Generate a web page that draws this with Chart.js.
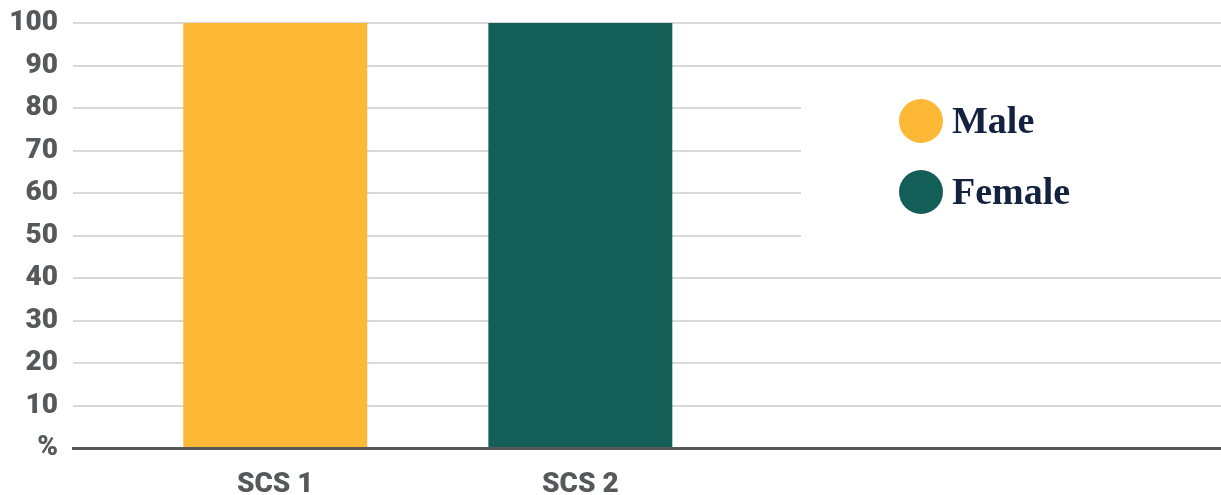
<!DOCTYPE html>
<html>
<head>
<meta charset="utf-8">
<script src="https://cdn.jsdelivr.net/npm/chart.js@4/dist/chart.umd.min.js"></script>
<style>
  html, body { margin: 0; padding: 0; background: #fff; }
  #wrap { width: 1221px; height: 495px; }
</style>
</head>
<body>
<div id="wrap"><canvas id="myChart"></canvas></div>
<script>
// Chart data
const categories = ['SCS 1', 'SCS 2']
const maleValues = [100, null]
const femaleValues = [null, 100]
const seriesNames = ['Male', 'Female']
const seriesColors = ['#fdb836', '#135f57']
const yTicks = [0, 10, 20, 30, 40, 50, 60, 70, 80, 90, 100]
const yTickLabels = ['%', '10', '20', '30', '40', '50', '60', '70', '80', '90', '100']

const greyText = '#55595c'
const tickFont = { family: 'Roboto', size: 28, weight: '900' }

// category i sits at x = i + 1 on a linear axis
const toPoints = values => values.map((v, i) => ({ x: i + 1, y: v }))

// legend drawn on a white box over the plot
const boxLegend = {
  id: 'boxLegend',
  afterDraw (chart) {
    const ctx = chart.ctx
    const area = chart.chartArea
    ctx.save()
    ctx.fillStyle = '#ffffff'
    ctx.fillRect(801, 88, area.right - 801, 165)
    ctx.font = 'bold 38px "Liberation Serif"'
    ctx.textBaseline = 'alphabetic'
    chart.data.datasets.forEach((ds, i) => {
      const cy = 121 + i * 71
      ctx.beginPath()
      ctx.fillStyle = ds.backgroundColor
      ctx.arc(921, cy, 22, 0, Math.PI * 2)
      ctx.fill()
      ctx.fillStyle = '#13223f'
      ctx.fillText(ds.label, 952, cy + 12)
    })
    ctx.restore()
  }
}

new Chart(document.getElementById('myChart'), {
  type: 'bar',
  data: {
    datasets: [
      {
        label: seriesNames[0],
        data: toPoints(maleValues),
        backgroundColor: seriesColors[0]
      },
      {
        label: seriesNames[1],
        data: toPoints(femaleValues),
        backgroundColor: seriesColors[1]
      }
    ]
  },
  options: {
    responsive: true,
    maintainAspectRatio: false,
    animation: false,
    grouped: false,
    categoryPercentage: 0.67,
    barPercentage: 0.9,
    layout: { padding: 0 },
    plugins: {
      legend: { display: false },
      tooltip: { enabled: false }
    },
    scales: {
      x: {
        type: 'linear',
        offset: false,
        min: 0.337,
        max: 4.1,
        afterBuildTicks: scale => {
          scale.ticks = categories.map((c, i) => ({ value: i + 1 }))
        },
        afterFit: scale => { scale.height = 47 },
        ticks: {
          color: greyText,
          font: tickFont,
          padding: 12,
          maxRotation: 0,
          autoSkip: false,
          callback: v => categories[Math.round(v) - 1]
        },
        grid: { display: false },
        border: { display: true, color: greyText, width: 3 }
      },
      y: {
        min: 0,
        max: 100,
        afterBuildTicks: scale => {
          scale.ticks = yTicks.map(v => ({ value: v }))
        },
        afterFit: scale => {
          scale.width = 73
          scale.paddingTop = 23
        },
        ticks: {
          color: greyText,
          font: tickFont,
          padding: 15,
          callback: v => yTickLabels[yTicks.indexOf(v)]
        },
        grid: {
          color: '#d9d9d9',
          lineWidth: 2,
          drawTicks: false
        },
        border: { display: false }
      }
    }
  },
  plugins: [boxLegend]
})
</script>
</body>
</html>
